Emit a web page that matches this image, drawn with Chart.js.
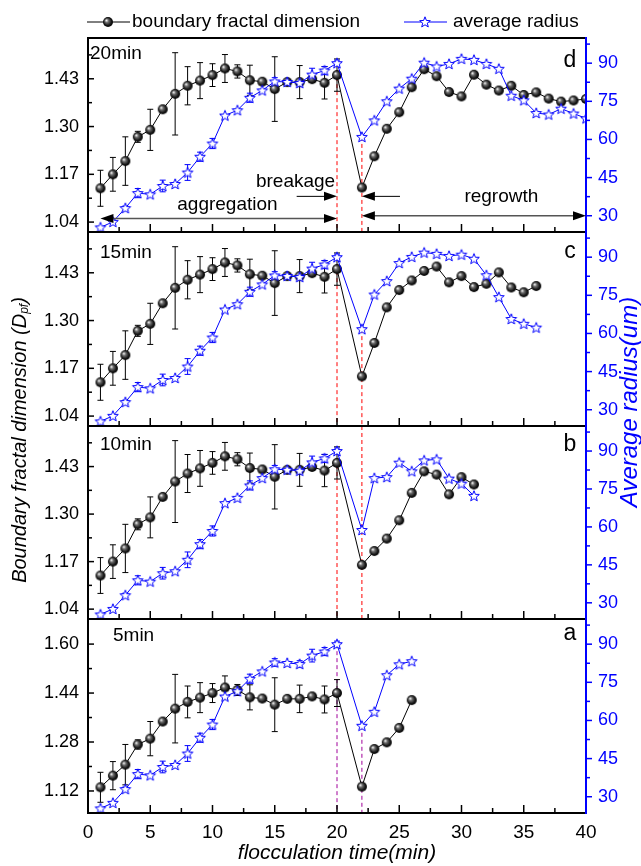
<!DOCTYPE html>
<html lang="en">
<head>
<meta charset="utf-8">
<title>Boundary fractal dimension and average radius</title>
<script src="https://cdn.jsdelivr.net/npm/chart.js@4.4.0/dist/chart.umd.min.js"></script>
<style>
  body { margin: 0; background: #fff; }
  #wrap { position: relative; width: 641px; height: 866px; }
  #wrap canvas { position: absolute; left: 0; top: 0; }
</style>
</head>
<body>
<div id="wrap">
  <canvas id="panelD" width="641" height="866"></canvas>
  <canvas id="panelC" width="641" height="866"></canvas>
  <canvas id="panelB" width="641" height="866"></canvas>
  <canvas id="panelA" width="641" height="866"></canvas>
</div>
<script>
// aggregation stage (same run in every panel), t = 1..20 min
const timeAgg = [1, 2, 3, 4, 5, 6, 7, 8, 9, 10, 11, 12, 13, 14, 15, 16, 17, 18, 19, 20];
const fractalAgg = [1.132, 1.170, 1.206, 1.272, 1.291, 1.347, 1.389, 1.411, 1.425, 1.440,
                    1.458, 1.450, 1.426, 1.422, 1.402, 1.421, 1.421, 1.429, 1.419, 1.440];
const fractalAggErr = [0.049, 0.046, 0.066, 0.015, 0.056, 0, 0.112, 0.052, 0.049, 0.031,
                       0.038, 0.018, 0.041, 0, 0.088, 0, 0.045, 0, 0.044, 0.044];
const radiusAgg = [25.4, 27.6, 33.0, 38.9, 38.4, 41.7, 42.5, 47.0, 53.2, 58.4,
                   69.4, 71.5, 76.4, 79.3, 82.8, 82.6, 82.2, 85.5, 87.1, 90.0];
const radiusAggErr = [0, 0, 0.8, 1.8, 0, 2.3, 0, 3.1, 1.8, 2.0,
                      0, 0, 1.8, 0, 1.5, 0, 1.3, 2.5, 1.6, 1.2];

// regrowth after breakage
const timeRegrowD = [22, 23, 24, 25, 26, 27, 28, 29, 30, 31, 32, 33, 34, 35, 36, 37, 38, 39, 40];
const fractalRegrowD = [1.134, 1.219, 1.294, 1.339, 1.407, 1.456, 1.437, 1.394, 1.382, 1.441,
                        1.414, 1.398, 1.411, 1.386, 1.393, 1.376, 1.368, 1.371, 1.375];
const radiusRegrowD = [61.0, 67.5, 75.0, 80.0, 83.9, 90.2, 88.7, 89.7, 91.7, 91.3,
                       89.7, 87.8, 77.2, 75.4, 70.4, 69.8, 72.1, 70.2, 68.3];

const timeRegrowC = [22, 23, 24, 25, 26, 27, 28, 29, 30, 31, 32, 33, 34, 35, 36];
const fractalRegrowC = [1.148, 1.239, 1.336, 1.383, 1.409, 1.435, 1.447, 1.404, 1.421, 1.391,
                        1.400, 1.431, 1.390, 1.377, 1.394];
const radiusRegrowC = [61.7, 75.3, 80.6, 87.7, 90.1, 91.8, 91.3, 90.5, 91.0, 89.4,
                       82.9, 74.3, 65.7, 63.8, 62.3];

const timeRegrowB = [22, 23, 24, 25, 26, 27, 28, 29, 30, 31];
const fractalRegrowB = [1.161, 1.199, 1.233, 1.283, 1.358, 1.417, 1.408, 1.354, 1.401, 1.381];
const radiusRegrowB = [58.8, 79.3, 79.7, 85.4, 82.0, 86.3, 86.7, 79.1, 77.1, 72.3];

const timeRegrowA = [22, 23, 24, 25, 26];
const fractalRegrowA = [1.134, 1.257, 1.279, 1.326, 1.417];
const radiusRegrowA = [57.9, 63.4, 77.8, 82.1, 83.3];

// tick labels
const xTicks = [0, 5, 10, 15, 20, 25, 30, 35, 40];
const fractalTicksBCD = [1.04, 1.17, 1.30, 1.43];
const fractalTicksA = [1.12, 1.28, 1.44, 1.60];
const radiusTicks = [30, 45, 60, 75, 90];
const breakTime = 20;
const regrowTime = 22;

const FONT = '"Liberation Sans", Arial, Helvetica, sans-serif';
Chart.defaults.font.family = FONT;
Chart.defaults.color = '#000';

function makeBall() {
    const c = document.createElement('canvas');
    c.width = 12; c.height = 12;
    const g = c.getContext('2d');
    const grd = g.createRadialGradient(4.3, 4.3, 0.3, 6, 6, 5.5);
    grd.addColorStop(0, '#f2f2f2');
    grd.addColorStop(0.3, '#6a6a6a');
    grd.addColorStop(0.7, '#141414');
    grd.addColorStop(1, '#000');
    g.fillStyle = grd;
    g.beginPath(); g.arc(6, 6, 5, 0, Math.PI * 2); g.fill();
    return c;
}

function makeStar() {
    const c = document.createElement('canvas');
    c.width = 14; c.height = 14;
    const g = c.getContext('2d');
    g.beginPath();
    for (let k = 0; k < 10; k++) {
        const r = k % 2 ? 2.4 : 5.6;
        const ang = -Math.PI / 2 + k * Math.PI / 5;
        const px = 7 + r * Math.cos(ang), py = 7.4 + r * Math.sin(ang);
        if (k) g.lineTo(px, py); else g.moveTo(px, py);
    }
    g.closePath();
    g.fillStyle = '#fff'; g.fill();
    g.strokeStyle = '#0000ff'; g.lineWidth = 1; g.stroke();
    return c;
}

const ballImg = makeBall();
const starImg = makeStar();

function seg(ctx, x1, y1, x2, y2) {
    ctx.beginPath(); ctx.moveTo(x1, y1); ctx.lineTo(x2, y2); ctx.stroke();
}

function head(ctx, xTip, y, dir) {
    ctx.beginPath();
    ctx.moveTo(xTip, y);
    ctx.lineTo(xTip - dir * 13, y - 4.5);
    ctx.lineTo(xTip - dir * 13, y + 4.5);
    ctx.closePath();
    ctx.fill();
}

function textAt(ctx, str, x, y, size, color, align) {
    ctx.font = size + 'px ' + FONT;
    ctx.fillStyle = color;
    ctx.textAlign = align || 'center';
    ctx.textBaseline = 'middle';
    ctx.fillText(str, x, y);
}

const panels = [
    {id: 'panelD', top: 38, bottom: 232, name: '20min', nameX: 90, nameDy: 16, letter: 'd', letterDy: 23,
     t: timeRegrowD, f: fractalRegrowD, r: radiusRegrowD, fMin: 1.013, fMax: 1.541, fTicks: fractalTicksBCD,
     guide: '#ff0000', fullGuide: false},
    {id: 'panelC', top: 232, bottom: 426, name: '15min', nameX: 100, nameDy: 21, letter: 'c', letterDy: 20,
     t: timeRegrowC, f: fractalRegrowC, r: radiusRegrowC, fMin: 1.013, fMax: 1.541, fTicks: fractalTicksBCD,
     guide: '#ff0000', fullGuide: false},
    {id: 'panelB', top: 426, bottom: 619, name: '10min', nameX: 100, nameDy: 19, letter: 'b', letterDy: 19,
     t: timeRegrowB, f: fractalRegrowB, r: radiusRegrowB, fMin: 1.013, fMax: 1.541, fTicks: fractalTicksBCD,
     guide: '#ff0000', fullGuide: true},
    {id: 'panelA', top: 619, bottom: 813, name: '5min', nameX: 113, nameDy: 17, letter: 'a', letterDy: 15,
     t: timeRegrowA, f: fractalRegrowA, r: radiusRegrowA, fMin: 1.048, fMax: 1.682, fTicks: fractalTicksA,
     guide: '#a0009a', fullGuide: false}
];

function makePanel(p, idx) {
    const isTop = idx === 0;
    const isBottom = idx === panels.length - 1;
    const times = timeAgg.concat(p.t);
    const fractal = fractalAgg.concat(p.f);
    const radius = radiusAgg.concat(p.r);

    const extras = {
        id: 'extras' + idx,
        beforeDatasetsDraw(chart) {
            const {ctx, chartArea: a, scales} = chart;
            const xs = scales.x, fs = scales.y, rs = scales.y2;
            ctx.save();
            // breakage / regrowth guide lines
            ctx.strokeStyle = p.guide;
            ctx.lineWidth = 1;
            ctx.setLineDash([4, 3]);
            [breakTime, regrowTime].forEach(t => {
                const i = times.indexOf(t);
                const x = xs.getPixelForValue(t);
                let y0 = Math.min(fs.getPixelForValue(fractal[i]), rs.getPixelForValue(radius[i]));
                if (p.fullGuide && t === regrowTime) y0 = a.top;
                seg(ctx, x, y0, x, a.bottom);
            });
            ctx.setLineDash([]);
            // error bars
            ctx.lineWidth = 1;
            ctx.strokeStyle = '#000';
            timeAgg.forEach((t, i) => {
                const e = fractalAggErr[i];
                if (!e) return;
                const x = xs.getPixelForValue(t);
                const y1 = fs.getPixelForValue(fractalAgg[i] - e), y2 = fs.getPixelForValue(fractalAgg[i] + e);
                seg(ctx, x, y1, x, y2);
                seg(ctx, x - 3, y1, x + 3, y1);
                seg(ctx, x - 3, y2, x + 3, y2);
            });
            ctx.strokeStyle = '#0000ff';
            timeAgg.forEach((t, i) => {
                const e = radiusAggErr[i];
                if (!e) return;
                const x = xs.getPixelForValue(t);
                const y1 = rs.getPixelForValue(radiusAgg[i] - e), y2 = rs.getPixelForValue(radiusAgg[i] + e);
                seg(ctx, x, y1, x, y2);
                seg(ctx, x - 3, y1, x + 3, y1);
                seg(ctx, x - 3, y2, x + 3, y2);
            });
            ctx.restore();
        },
        afterDraw(chart) {
            const {ctx, chartArea: a, scales} = chart;
            const xs = scales.x, fs = scales.y, rs = scales.y2;
            ctx.save();
            // inward ticks: bottom and left
            ctx.strokeStyle = '#000';
            ctx.lineWidth = 1.5;
            xTicks.forEach(v => {
                const x = xs.getPixelForValue(v);
                seg(ctx, x, a.bottom, x, a.bottom - 8);
                if (v < 40) {
                    const xm = xs.getPixelForValue(v + 2.5);
                    seg(ctx, xm, a.bottom, xm, a.bottom - 5);
                }
            });
            const fStep = p.fTicks[1] - p.fTicks[0];
            p.fTicks.forEach(v => {
                const y = fs.getPixelForValue(v);
                seg(ctx, a.left, y, a.left + 6, y);
                if (v + fStep / 2 < p.fMax - 0.005) {
                    const ym = fs.getPixelForValue(v + fStep / 2);
                    seg(ctx, a.left, ym, a.left + 4, ym);
                }
            });
            // frame
            ctx.lineWidth = 2;
            seg(ctx, a.left, a.top, a.right, a.top);
            seg(ctx, a.left, a.bottom, a.right, a.bottom);
            seg(ctx, a.left, a.top - 1, a.left, a.bottom + 1);
            // right radius axis, outward ticks
            ctx.strokeStyle = '#0000ff';
            seg(ctx, a.right, a.top - 1, a.right, a.bottom + 1);
            ctx.lineWidth = 1.5;
            radiusTicks.forEach(v => {
                const y = rs.getPixelForValue(v);
                seg(ctx, a.right, y, a.right + 6, y);
                const ym = rs.getPixelForValue(v + 7.5);
                seg(ctx, a.right, ym, a.right + 4, ym);
            });
            // panel labels
            textAt(ctx, p.name, p.nameX, a.top + p.nameDy, 19, '#000', 'left');
            textAt(ctx, p.letter, 570, a.top + p.letterDy, 23, '#000', 'center');

            if (isTop) {
                // legend
                ctx.strokeStyle = '#000'; ctx.lineWidth = 1;
                seg(ctx, 87, 22, 130, 22);
                ctx.drawImage(ballImg, 108 - 6, 22 - 6);
                textAt(ctx, 'boundary fractal dimension', 132, 22, 19, '#000', 'left');
                ctx.strokeStyle = '#0000ff';
                seg(ctx, 404, 22, 447, 22);
                ctx.drawImage(starImg, 425 - 7, 22 - 7);
                textAt(ctx, 'average radius', 453, 22, 19, '#000', 'left');

                // stage annotations
                const xb = xs.getPixelForValue(breakTime), xr = xs.getPixelForValue(regrowTime);
                const yArrow = fs.getPixelForValue(1.110);
                ctx.strokeStyle = '#000'; ctx.fillStyle = '#000'; ctx.lineWidth = 1;
                seg(ctx, xs.getPixelForValue(16.76), yArrow, xb - 10, yArrow);
                head(ctx, xb, yArrow, 1);
                seg(ctx, xs.getPixelForValue(25.06), yArrow, xr + 10, yArrow);
                head(ctx, xr, yArrow, -1);

                const yAgg = fs.getPixelForValue(1.050);
                const x1 = xs.getPixelForValue(1);
                ctx.strokeStyle = '#555'; ctx.lineWidth = 1.5;
                seg(ctx, x1 + 10, yAgg, xb - 10, yAgg);
                ctx.fillStyle = '#000';
                head(ctx, x1, yAgg, -1);
                head(ctx, xb, yAgg, 1);

                const yReg = fs.getPixelForValue(1.057);
                const x40 = xs.getPixelForValue(40);
                seg(ctx, xr + 10, yReg, x40 - 10, yReg);
                head(ctx, xr, yReg, -1);
                head(ctx, x40, yReg, 1);

                textAt(ctx, 'breakage', xs.getPixelForValue(16.67), fs.getPixelForValue(1.149), 19, '#000');
                textAt(ctx, 'aggregation', xs.getPixelForValue(11.2), fs.getPixelForValue(1.086), 19, '#000');
                textAt(ctx, 'regrowth', xs.getPixelForValue(33.2), fs.getPixelForValue(1.108), 19, '#000');
            }

            if (isBottom) {
                // left axis title with subscript
                ctx.save();
                ctx.translate(20, 440);
                ctx.rotate(-Math.PI / 2);
                ctx.fillStyle = '#000';
                ctx.textBaseline = 'middle';
                ctx.textAlign = 'left';
                const mainTxt = 'Boundary fractal dimension (D';
                ctx.font = 'italic 20px ' + FONT;
                const w1 = ctx.measureText(mainTxt).width;
                const w3 = ctx.measureText(')').width;
                ctx.font = 'italic 12px ' + FONT;
                const w2 = ctx.measureText('pf').width;
                let x0 = -(w1 + w2 + w3) / 2;
                ctx.font = 'italic 20px ' + FONT;
                ctx.fillText(mainTxt, x0, 0);
                ctx.font = 'italic 12px ' + FONT;
                ctx.fillText('pf', x0 + w1, 5);
                ctx.font = 'italic 20px ' + FONT;
                ctx.fillText(')', x0 + w1 + w2, 0);
                ctx.restore();

                // right axis title
                ctx.save();
                ctx.translate(630, 402);
                ctx.rotate(-Math.PI / 2);
                ctx.font = 'italic 24px ' + FONT;
                ctx.fillStyle = '#0000ff';
                ctx.textAlign = 'center';
                ctx.textBaseline = 'middle';
                ctx.fillText('Average radius(um)', 0, 0);
                ctx.restore();
            }
            ctx.restore();
        }
    };

    new Chart(document.getElementById(p.id), {
        type: 'line',
        data: {
            datasets: [
                {
                    label: 'average radius',
                    data: times.map((t, i) => ({x: t, y: radius[i]})),
                    yAxisID: 'y2',
                    borderColor: '#0000ff',
                    borderWidth: 1,
                    pointStyle: starImg,
                    pointRadius: 5,
                    order: 0
                },
                {
                    label: 'boundary fractal dimension',
                    data: times.map((t, i) => ({x: t, y: fractal[i]})),
                    yAxisID: 'y',
                    borderColor: '#000',
                    borderWidth: 1,
                    pointStyle: ballImg,
                    pointRadius: 5,
                    order: 1
                }
            ]
        },
        options: {
            responsive: false,
            animation: false,
            layout: {padding: {top: p.top, bottom: isBottom ? 0 : 866 - p.bottom, left: 0, right: 0}},
            plugins: {legend: {display: false}, tooltip: {enabled: false}},
            scales: {
                x: {
                    type: 'linear', min: 0, max: 40,
                    display: isBottom,
                    afterBuildTicks: s => { s.ticks = xTicks.map(v => ({value: v})); },
                    afterFit: s => { s.height = isBottom ? 53 : 0; },
                    ticks: {font: {size: 19}, padding: 8, maxRotation: 0},
                    grid: {display: false, drawTicks: false},
                    border: {display: false},
                    title: {display: true, text: 'flocculation time(min)', font: {size: 21, style: 'italic', lineHeight: 1.2}, padding: 0}
                },
                y: {
                    type: 'linear', position: 'left', min: p.fMin, max: p.fMax,
                    afterBuildTicks: s => { s.ticks = p.fTicks.map(v => ({value: v})); },
                    afterFit: s => { s.width = 88; },
                    ticks: {font: {size: 18}, padding: 9, callback: v => v.toFixed(2)},
                    grid: {display: false, drawTicks: false},
                    border: {display: false}
                },
                y2: {
                    type: 'linear', position: 'right', min: 23.6, max: 99.9,
                    afterBuildTicks: s => { s.ticks = radiusTicks.map(v => ({value: v})); },
                    afterFit: s => { s.width = 55; },
                    ticks: {font: {size: 18}, padding: 12, color: '#0000ff'},
                    grid: {display: false, drawTicks: false},
                    border: {display: false}
                }
            }
        },
        plugins: [extras]
    });
}

panels.forEach(makePanel);
</script>
</body>
</html>
